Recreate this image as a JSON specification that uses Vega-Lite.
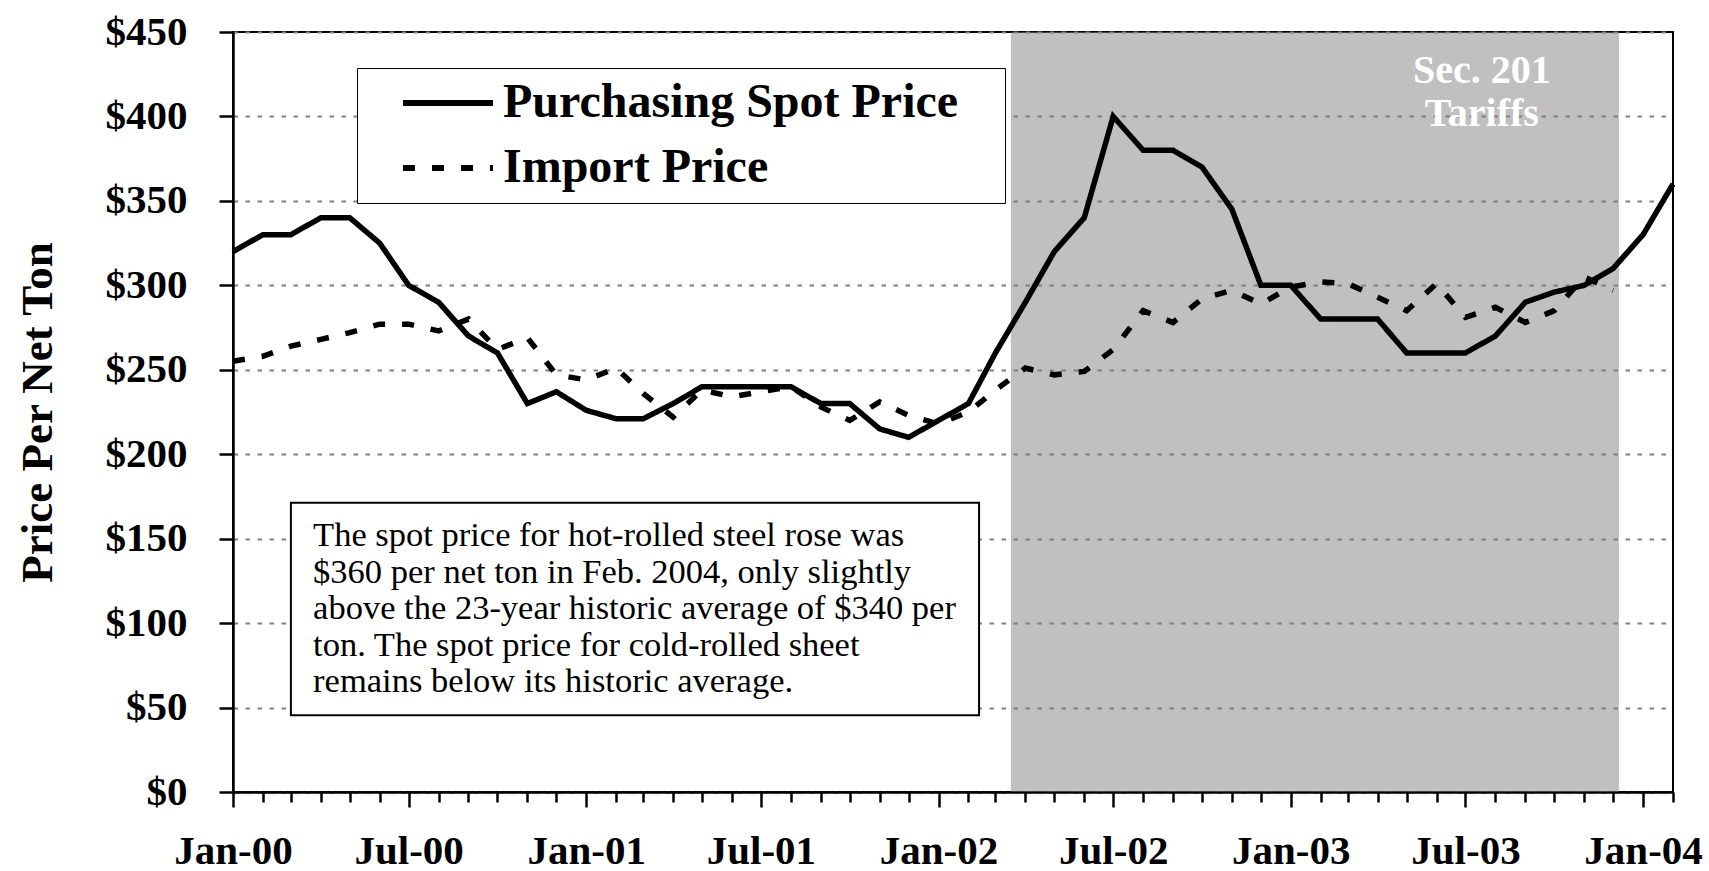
{
  "$schema": "https://vega.github.io/schema/vega-lite/v6.json",
  "width": 1440,
  "height": 760,
  "autosize": {"type": "none"},
  "padding": {"left": 233, "top": 32, "right": 36, "bottom": 79},
  "background": "white",
  "config": {
    "view": {"stroke": "black", "strokeWidth": 2},
    "font": "Liberation Serif"
  },
  "datasets": {
    "prices": [
      {"date": "2000-01-01", "series": "Purchasing Spot Price", "price": 320},
      {"date": "2000-02-01", "series": "Purchasing Spot Price", "price": 330},
      {"date": "2000-03-01", "series": "Purchasing Spot Price", "price": 330},
      {"date": "2000-04-01", "series": "Purchasing Spot Price", "price": 340},
      {"date": "2000-05-01", "series": "Purchasing Spot Price", "price": 340},
      {"date": "2000-06-01", "series": "Purchasing Spot Price", "price": 325},
      {"date": "2000-07-01", "series": "Purchasing Spot Price", "price": 300},
      {"date": "2000-08-01", "series": "Purchasing Spot Price", "price": 290},
      {"date": "2000-09-01", "series": "Purchasing Spot Price", "price": 270},
      {"date": "2000-10-01", "series": "Purchasing Spot Price", "price": 260},
      {"date": "2000-11-01", "series": "Purchasing Spot Price", "price": 230},
      {"date": "2000-12-01", "series": "Purchasing Spot Price", "price": 237},
      {"date": "2001-01-01", "series": "Purchasing Spot Price", "price": 226},
      {"date": "2001-02-01", "series": "Purchasing Spot Price", "price": 221},
      {"date": "2001-03-01", "series": "Purchasing Spot Price", "price": 221},
      {"date": "2001-04-01", "series": "Purchasing Spot Price", "price": 230},
      {"date": "2001-05-01", "series": "Purchasing Spot Price", "price": 240},
      {"date": "2001-06-01", "series": "Purchasing Spot Price", "price": 240},
      {"date": "2001-07-01", "series": "Purchasing Spot Price", "price": 240},
      {"date": "2001-08-01", "series": "Purchasing Spot Price", "price": 240},
      {"date": "2001-09-01", "series": "Purchasing Spot Price", "price": 230},
      {"date": "2001-10-01", "series": "Purchasing Spot Price", "price": 230},
      {"date": "2001-11-01", "series": "Purchasing Spot Price", "price": 215},
      {"date": "2001-12-01", "series": "Purchasing Spot Price", "price": 210},
      {"date": "2002-01-01", "series": "Purchasing Spot Price", "price": 220},
      {"date": "2002-02-01", "series": "Purchasing Spot Price", "price": 230},
      {"date": "2002-03-01", "series": "Purchasing Spot Price", "price": 260},
      {"date": "2002-04-01", "series": "Purchasing Spot Price", "price": 290},
      {"date": "2002-05-01", "series": "Purchasing Spot Price", "price": 320},
      {"date": "2002-06-01", "series": "Purchasing Spot Price", "price": 340},
      {"date": "2002-07-01", "series": "Purchasing Spot Price", "price": 400},
      {"date": "2002-08-01", "series": "Purchasing Spot Price", "price": 380},
      {"date": "2002-09-01", "series": "Purchasing Spot Price", "price": 380},
      {"date": "2002-10-01", "series": "Purchasing Spot Price", "price": 370},
      {"date": "2002-11-01", "series": "Purchasing Spot Price", "price": 345},
      {"date": "2002-12-01", "series": "Purchasing Spot Price", "price": 300},
      {"date": "2003-01-01", "series": "Purchasing Spot Price", "price": 300},
      {"date": "2003-02-01", "series": "Purchasing Spot Price", "price": 280},
      {"date": "2003-03-01", "series": "Purchasing Spot Price", "price": 280},
      {"date": "2003-04-01", "series": "Purchasing Spot Price", "price": 280},
      {"date": "2003-05-01", "series": "Purchasing Spot Price", "price": 260},
      {"date": "2003-06-01", "series": "Purchasing Spot Price", "price": 260},
      {"date": "2003-07-01", "series": "Purchasing Spot Price", "price": 260},
      {"date": "2003-08-01", "series": "Purchasing Spot Price", "price": 270},
      {"date": "2003-09-01", "series": "Purchasing Spot Price", "price": 290},
      {"date": "2003-10-01", "series": "Purchasing Spot Price", "price": 296},
      {"date": "2003-11-01", "series": "Purchasing Spot Price", "price": 300},
      {"date": "2003-12-01", "series": "Purchasing Spot Price", "price": 310},
      {"date": "2004-01-01", "series": "Purchasing Spot Price", "price": 330},
      {"date": "2004-02-01", "series": "Purchasing Spot Price", "price": 360},
      {"date": "2000-01-01", "series": "Import Price", "price": 255},
      {"date": "2000-02-01", "series": "Import Price", "price": 258},
      {"date": "2000-03-01", "series": "Import Price", "price": 264},
      {"date": "2000-04-01", "series": "Import Price", "price": 268},
      {"date": "2000-05-01", "series": "Import Price", "price": 272},
      {"date": "2000-06-01", "series": "Import Price", "price": 277},
      {"date": "2000-07-01", "series": "Import Price", "price": 277},
      {"date": "2000-08-01", "series": "Import Price", "price": 273},
      {"date": "2000-09-01", "series": "Import Price", "price": 280},
      {"date": "2000-10-01", "series": "Import Price", "price": 262},
      {"date": "2000-11-01", "series": "Import Price", "price": 269},
      {"date": "2000-12-01", "series": "Import Price", "price": 247},
      {"date": "2001-01-01", "series": "Import Price", "price": 244},
      {"date": "2001-02-01", "series": "Import Price", "price": 251},
      {"date": "2001-03-01", "series": "Import Price", "price": 236},
      {"date": "2001-04-01", "series": "Import Price", "price": 222},
      {"date": "2001-05-01", "series": "Import Price", "price": 238},
      {"date": "2001-06-01", "series": "Import Price", "price": 234},
      {"date": "2001-07-01", "series": "Import Price", "price": 237},
      {"date": "2001-08-01", "series": "Import Price", "price": 240},
      {"date": "2001-09-01", "series": "Import Price", "price": 228},
      {"date": "2001-10-01", "series": "Import Price", "price": 220},
      {"date": "2001-11-01", "series": "Import Price", "price": 231},
      {"date": "2001-12-01", "series": "Import Price", "price": 223},
      {"date": "2002-01-01", "series": "Import Price", "price": 218},
      {"date": "2002-02-01", "series": "Import Price", "price": 225},
      {"date": "2002-03-01", "series": "Import Price", "price": 238},
      {"date": "2002-04-01", "series": "Import Price", "price": 251},
      {"date": "2002-05-01", "series": "Import Price", "price": 247},
      {"date": "2002-06-01", "series": "Import Price", "price": 249},
      {"date": "2002-07-01", "series": "Import Price", "price": 262},
      {"date": "2002-08-01", "series": "Import Price", "price": 285},
      {"date": "2002-09-01", "series": "Import Price", "price": 278},
      {"date": "2002-10-01", "series": "Import Price", "price": 292},
      {"date": "2002-11-01", "series": "Import Price", "price": 297},
      {"date": "2002-12-01", "series": "Import Price", "price": 289},
      {"date": "2003-01-01", "series": "Import Price", "price": 299},
      {"date": "2003-02-01", "series": "Import Price", "price": 302},
      {"date": "2003-03-01", "series": "Import Price", "price": 301},
      {"date": "2003-04-01", "series": "Import Price", "price": 293},
      {"date": "2003-05-01", "series": "Import Price", "price": 285},
      {"date": "2003-06-01", "series": "Import Price", "price": 301},
      {"date": "2003-07-01", "series": "Import Price", "price": 281},
      {"date": "2003-08-01", "series": "Import Price", "price": 287},
      {"date": "2003-09-01", "series": "Import Price", "price": 278},
      {"date": "2003-10-01", "series": "Import Price", "price": 285},
      {"date": "2003-11-01", "series": "Import Price", "price": 305},
      {"date": "2003-12-01", "series": "Import Price", "price": 297}
    ]
  },
  "layer": [
    {
      "data": {"values": [{}]},
      "mark": {"type": "rect", "color": "#808080", "opacity": 0.496},
      "encoding": {
        "x": {"datum": {"year": 2002, "month": 3, "date": 17}, "type": "temporal"},
        "x2": {"datum": {"year": 2003, "month": 12, "date": 7}},
        "y": {"datum": 0, "type": "quantitative"},
        "y2": {"datum": 450}
      }
    },
    {
      "data": {"values": [{}]},
      "mark": {"type": "text", "text": ["Sec. 201", "Tariffs"], "align": "center", "baseline": "top", "font": "Liberation Serif", "fontWeight": "bold", "fontSize": 40, "lineHeight": 43, "color": "white"},
      "encoding": {
        "x": {"datum": {"year": 2003, "month": 7, "date": 18}, "type": "temporal"},
        "y": {"datum": 438.5, "type": "quantitative"}
      }
    },
    {
      "data": {"values": [{}]},
      "mark": {"type": "rect", "fill": "white", "stroke": "black", "strokeWidth": 2},
      "encoding": {
        "x": {"datum": {"year": 2000, "month": 3, "date": 1}, "type": "temporal"},
        "x2": {"datum": {"year": 2002, "month": 2, "date": 12}},
        "y": {"datum": 171.3, "type": "quantitative"},
        "y2": {"datum": 45.4}
      }
    },
    {
      "data": {"values": [{}]},
      "mark": {"type": "text", "text": ["The spot price for hot-rolled steel rose was", "$360 per net ton in Feb. 2004, only slightly", "above the 23-year historic average of $340 per", "ton. The spot price for cold-rolled sheet", "remains below its historic average."], "align": "left", "baseline": "top", "font": "Liberation Serif", "fontSize": 34.5, "lineHeight": 36.5, "color": "black"},
      "encoding": {
        "x": {"datum": {"year": 2000, "month": 3, "date": 24}, "type": "temporal"},
        "y": {"datum": 161.5, "type": "quantitative"}
      }
    },
    {
      "data": {"name": "prices"},
      "mark": {"type": "line", "color": "black", "strokeWidth": 5.5, "strokeCap": "butt", "strokeJoin": "miter"},
      "encoding": {
        "x": {
          "field": "date", "type": "temporal",
          "scale": {"domain": [{"year": 2000, "month": 1, "date": 1}, {"year": 2004, "month": 2, "date": 1}]},
          "axis": {
            "title": null, "grid": false,
            "tickCount": {"interval": "month", "step": 1},
            "labelExpr": "month(datum.value) % 6 == 0 ? timeFormat(datum.value, '%b-%y') : ''",
            "tickSize": {"condition": {"test": "month(datum.value) % 6 == 0", "value": 15}, "value": 10},
            "tickWidth": 2.5, "tickColor": "black",
            "domainColor": "black", "domainWidth": 2.5,
            "labelFont": "Liberation Serif", "labelFontSize": 41, "labelFontWeight": "bold", "labelColor": "black",
            "labelPadding": 24, "labelFlush": false, "labelOverlap": false, "labelBound": false
          }
        },
        "y": {
          "field": "price", "type": "quantitative",
          "scale": {"domain": [0, 450], "nice": false, "zero": true},
          "axis": {
            "values": [0, 50, 100, 150, 200, 250, 300, 350, 400, 450],
            "format": "$.0f",
            "title": "Price Per Net Ton",
            "grid": true, "gridColor": "#808080", "gridDash": [4.5, 7.5], "gridWidth": 2,
            "domainColor": "black", "domainWidth": 2.5,
            "tickColor": "black", "tickSize": 14, "tickWidth": 2.5,
            "labelPadding": 32, "labelFont": "Liberation Serif", "labelFontSize": 41, "labelFontWeight": "bold", "labelColor": "black",
            "titleFont": "Liberation Serif", "titleFontSize": 45, "titleFontWeight": "bold", "titleColor": "black", "titlePadding": 45
          }
        },
        "strokeDash": {
          "field": "series", "type": "nominal",
          "scale": {"domain": ["Purchasing Spot Price", "Import Price"], "range": [[1, 0], [12, 17]]},
          "legend": {
            "orient": "none", "legendX": 124, "legendY": 36,
            "title": "\u00a0", "titleOrient": "left", "titleFontSize": 2, "titlePadding": 34,
            "padding": 11, "strokeColor": "black", "fillColor": "white",
            "symbolType": "M-5,0H5", "symbolSize": 324, "symbolStrokeWidth": 6, "symbolStrokeColor": "black",
            "symbolOffset": 22, "labelOffset": 31, "rowPadding": 17,
            "labelFont": "Liberation Serif", "labelFontSize": 48, "labelFontWeight": "bold", "labelColor": "black",
            "labelExpr": "datum.label + '\u2800'", "labelLimit": 800
          }
        }
      }
    }
  ]
}
